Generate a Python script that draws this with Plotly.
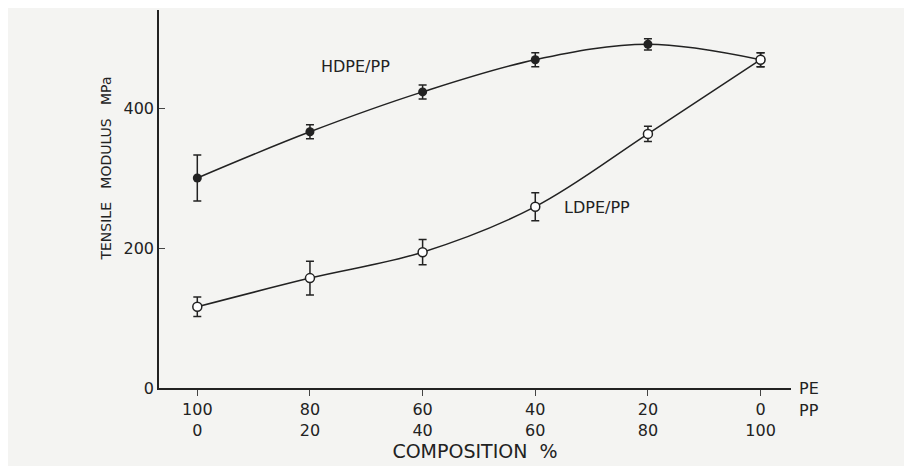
import plotly.graph_objects as go

pos = [0, 1, 2, 3, 4, 5]
pe = ["100", "80", "60", "40", "20", "0"]
pp = ["0", "20", "40", "60", "80", "100"]
hdpe = [300, 366, 423, 469, 491, 469]
hdpe_err = [33, 10, 10, 10, 8, 10]
ldpe = [116, 157, 194, 259, 363, 469]
ldpe_err = [14, 24, 18, 20, 11, 10]

fig = go.Figure()
fig.add_trace(go.Scatter(x=pos, y=hdpe, mode="lines+markers", line=dict(shape="spline", color="#222", width=1.5),
    marker=dict(color="#222", size=9), error_y=dict(array=hdpe_err, color="#222", thickness=1.5, width=4)))
fig.add_trace(go.Scatter(x=pos, y=ldpe, mode="lines+markers", line=dict(shape="spline", color="#222", width=1.5),
    marker=dict(color="white", size=9, line=dict(color="#222", width=1.5)),
    error_y=dict(array=ldpe_err, color="#222", thickness=1.5, width=4)))
fig.update_layout(width=912, height=466, showlegend=False, paper_bgcolor="#f4f4f2", plot_bgcolor="#f4f4f2",
    margin=dict(l=151, r=129, t=2, b=86, autoexpand=False), font=dict(family="DejaVu Sans", size=16, color="#222"))
fig.update_xaxes(range=[-0.34, 5.27], tickvals=pos, ticktext=[f"{a}<br>{b}" for a, b in zip(pe, pp)],
    showline=True, linecolor="#222", linewidth=1.5, ticks="outside", ticklen=6, showgrid=False, zeroline=False,
    title=dict(text="COMPOSITION  %", standoff=2), automargin=False)
fig.update_yaxes(range=[0, 540], tickvals=[0, 200, 400], showline=True, linecolor="#222", linewidth=1.5,
    ticks="inside", ticklen=6, showgrid=False, zeroline=False, automargin=False)
for t, y in [("PE", 398), ("PP", 420)]:
    fig.add_annotation(text=t, xref="paper", yref="paper", x=1.0, y=0, yshift=-(y-388)-2, xshift=30,
        showarrow=False, font=dict(size=16))
fig.add_annotation(text="TENSILE   MODULUS   MPa", xref="paper", yref="paper", x=-0.1, y=0.58, textangle=-90,
    showarrow=False, font=dict(size=14))
fig.add_annotation(text="HDPE/PP", x=1.4, y=460, showarrow=False, font=dict(size=16))
fig.add_annotation(text="LDPE/PP", x=3.55, y=258, showarrow=False, font=dict(size=16))
fig.write_html("out.html")
